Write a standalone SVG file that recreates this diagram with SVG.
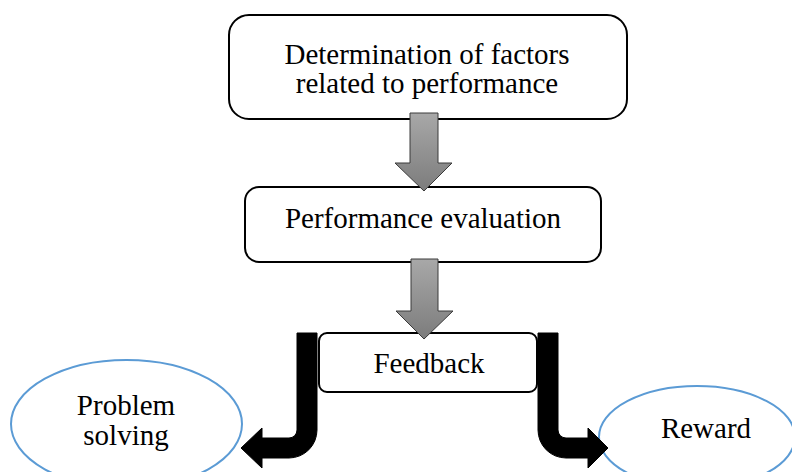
<svg xmlns="http://www.w3.org/2000/svg" width="792" height="472" viewBox="0 0 792 472">
  <style>
    .box { fill: #ffffff; stroke: #000000; stroke-width: 2; }
    .oval { fill: #ffffff; stroke: #5b9bd5; stroke-width: 2; }
    .lbl { font-family: "Liberation Serif", "Times New Roman", serif; font-size: 29px; fill: #000000; text-anchor: middle; }
    .garrow { fill: url(#grayGrad); stroke: #3a3a3a; stroke-width: 1; }
    .barrow { fill: #000000; stroke: #000000; stroke-width: 1; }
  </style>
  <defs>
    <linearGradient id="grayGrad" x1="0" y1="0" x2="0" y2="1">
      <stop offset="0" stop-color="#a8a8a8"/>
      <stop offset="1" stop-color="#7c7c7c"/>
    </linearGradient>
  </defs>
  <rect width="792" height="472" fill="#ffffff"/>

  <g id="node-factors">
    <rect class="box" x="229" y="15" width="398" height="104" rx="20" ry="20"/>
    <text class="lbl" x="427" y="64">Determination of factors</text>
    <text class="lbl" x="427" y="93">related to performance</text>
  </g>

  <g id="node-evaluation">
    <rect class="box" x="245" y="187" width="356" height="75" rx="14" ry="14"/>
    <text class="lbl" x="423" y="228">Performance evaluation</text>
  </g>

  <g id="node-feedback">
    <rect class="box" x="319" y="333" width="218" height="59" rx="8" ry="8"/>
    <text class="lbl" x="429" y="373">Feedback</text>
  </g>

  <g id="node-problem">
    <ellipse class="oval" cx="126.5" cy="424" rx="115.5" ry="64"/>
    <text class="lbl" x="126" y="415">Problem</text>
    <text class="lbl" x="126" y="445">solving</text>
  </g>

  <g id="node-reward">
    <ellipse class="oval" cx="697" cy="437" rx="98" ry="51"/>
    <text class="lbl" x="706" y="438">Reward</text>
  </g>

  <g id="connectors">
    <path class="garrow" d="M410,113 L438,113 L438,163 L452,163 L424,191 L395,163 L410,163 Z"/>
    <path class="garrow" d="M411,259 L438,259 L438,311 L453,311 L424,339 L396,311 L411,311 Z"/>
    <path class="barrow" d="M297,333 L317,333 L317,430 A28,28 0 0 1 289,458 L262,458 L262,468 L241,448 L262,428 L262,438 L289,438 A8,8 0 0 0 297,430 Z"/>
    <path class="barrow" d="M538,333 L558,333 L558,430 A8,8 0 0 0 566,438 L588,438 L588,428 L608,448 L588,468 L588,458 L566,458 A28,28 0 0 1 538,430 Z"/>
  </g>
</svg>
